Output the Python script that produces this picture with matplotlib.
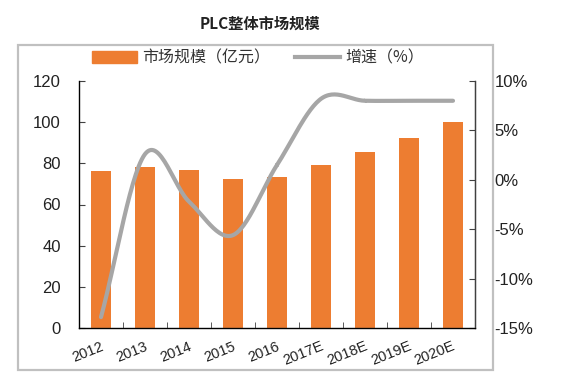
import numpy as np
import matplotlib
matplotlib.use("Agg")
import matplotlib.pyplot as plt
from matplotlib.patches import Rectangle
from matplotlib.lines import Line2D
from matplotlib.ticker import FixedLocator, FuncFormatter
import matplotlib.transforms as mtrans

years = ["2012", "2013", "2014", "2015", "2016", "2017E", "2018E", "2019E", "2020E"]
market = [76.4, 78.4, 76.8, 72.4, 73.5, 79.2, 85.7, 92.5, 99.9]
growth = [-13.9, 2.6, -2.2, -5.6, 1.5, 8.2, 8.0, 8.0, 8.0]
left_ticks = [0, 20, 40, 60, 80, 100, 120]
right_ticks = [-15, -10, -5, 0, 5, 10]
title = "PLC整体市场规模"
bar_label = "市场规模（亿元）"
line_label = "增速（%）"

W, H = 568, 381
fig = plt.figure(figsize=(W / 100, H / 100), dpi=100)
fig.patch.set_facecolor("white")

num_font = ["Liberation Sans", "Noto Sans CJK SC"]
cjk_font = ["Noto Sans CJK SC", "Liberation Sans"]

# outer frame
fig.patches.append(Rectangle((18 / W, 1 - 370 / H), (493 - 18) / W, (370 - 45) / H,
                             transform=fig.transFigure, fill=False,
                             edgecolor="#c0c0c0", linewidth=1.6, zorder=0))

fig.text(260 / W, 1 - 24 / H, title, ha="center", va="center",
         fontsize=11, fontweight="bold", family=cjk_font, color="#222222")

ax = fig.add_axes([79 / W, 1 - 328 / H, 396 / W, 247 / H])
x = np.arange(len(years))
ax.bar(x, market, width=0.47, color="#ed7d31", zorder=2)
ax.set_xlim(-0.5, len(years) - 0.5)
ax.set_ylim(0, 120)
ax.yaxis.set_major_locator(FixedLocator(left_ticks))
ax.spines["top"].set_visible(False)
for s in ["left", "bottom", "right"]:
    ax.spines[s].set_color("#404040")
    ax.spines[s].set_linewidth(1.0)
ax.tick_params(axis="y", direction="in", length=4, color="#404040", labelsize=12,
               labelcolor="#222222", pad=13)
for lab in ax.get_yticklabels():
    lab.set_family(num_font)
ax.set_xticks(x)
ax.tick_params(axis="x", which="major", length=0, labelsize=10.5, labelcolor="#222222", pad=8)
ax.set_xticks(np.arange(-0.5, len(years), 1.0), minor=True)
ax.tick_params(axis="x", which="minor", direction="in", length=4, color="#404040")
ax.set_xticklabels(years, rotation=22, ha="right", rotation_mode="anchor",
                   family=num_font, fontsize=10.5)
for lab in ax.get_xticklabels():
    lab.set_transform(lab.get_transform() + mtrans.ScaledTranslation(-1 / 100, 0, fig.dpi_scale_trans))

ax2 = ax.twinx()
ax2.set_ylim(-15, 10)
ax2.yaxis.set_major_locator(FixedLocator(right_ticks))
ax2.yaxis.set_major_formatter(FuncFormatter(lambda v, p: f"{int(v)}%"))
ax2.tick_params(axis="y", direction="in", length=4, color="#404040", labelsize=12,
                labelcolor="#222222", pad=14)
for lab in ax2.get_yticklabels():
    lab.set_family(num_font)
ax2.spines["top"].set_visible(False)
ax2.spines["right"].set_color("#404040")

# smooth curve (Catmull-Rom) through the growth points
g = np.array(growth, dtype=float)
P = np.column_stack([x.astype(float), g])
P = np.vstack([2 * P[0] - P[1], P, 2 * P[-1] - P[-2]])
xs, ys = [], []
for i in range(1, len(P) - 2):
    p0, p1, p2, p3 = P[i - 1], P[i], P[i + 1], P[i + 2]
    t = np.linspace(0, 1, 30)[:, None]
    c = 0.5 * ((2 * p1) + (-p0 + p2) * t + (2 * p0 - 5 * p1 + 4 * p2 - p3) * t ** 2
               + (-p0 + 3 * p1 - 3 * p2 + p3) * t ** 3)
    xs.extend(c[:, 0]); ys.extend(c[:, 1])
ax2.plot(xs, ys, color="#a6a6a6", linewidth=3, solid_capstyle="round", zorder=3)

# legend
handles = [Rectangle((0, 0), 1, 1, color="#ed7d31"),
           Line2D([0], [0], color="#a6a6a6", linewidth=3)]
leg = fig.legend(handles, [bar_label, line_label], loc="center",
                 bbox_to_anchor=(258 / W, 1 - 58 / H), ncol=2, frameon=False,
                 prop={"family": cjk_font, "size": 11.5}, handlelength=2.8,
                 handleheight=0.7, columnspacing=1.6, handletextpad=0.3)
for t in leg.get_texts():
    t.set_color("#333333")

fig.savefig("out.png", dpi=100)
